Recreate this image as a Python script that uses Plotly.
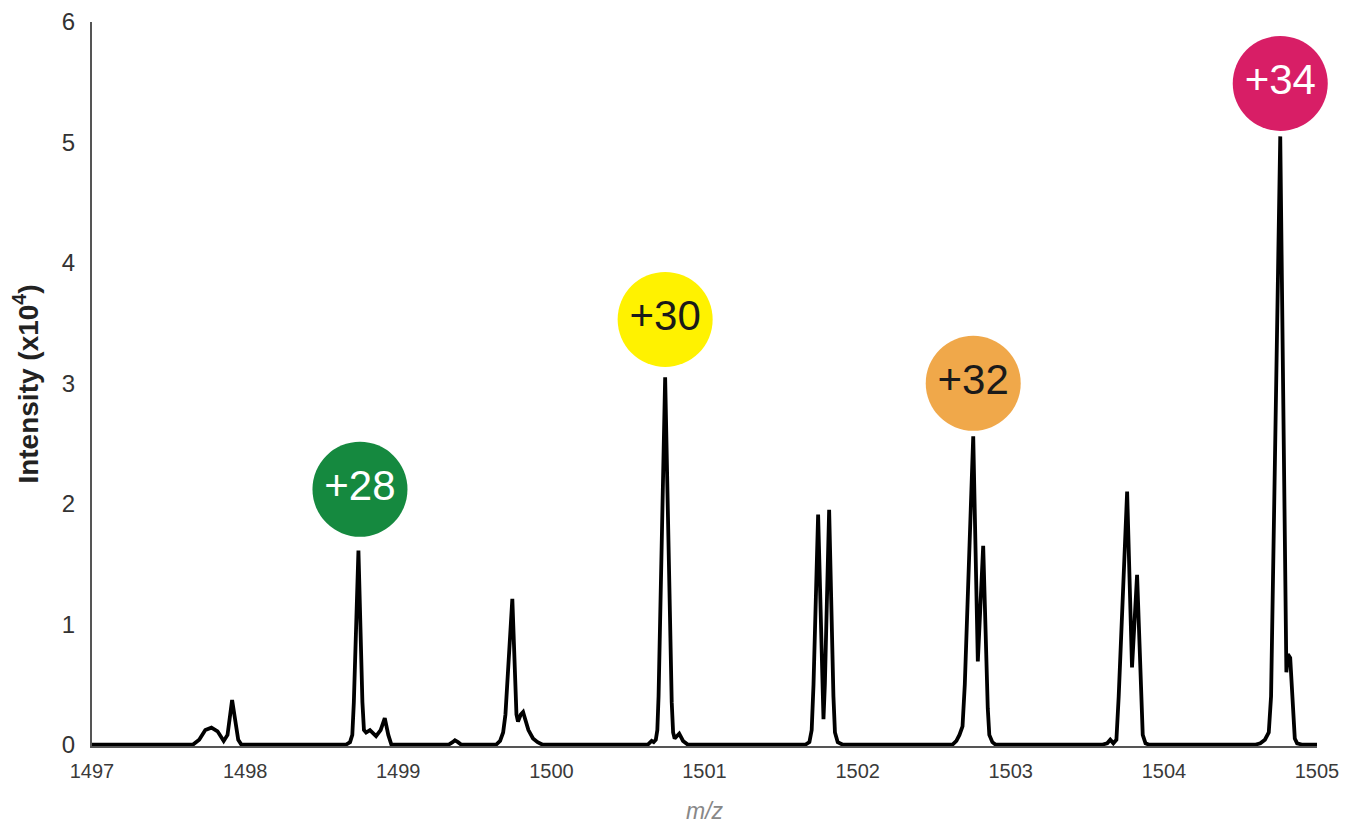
import plotly.graph_objects as go

# Spectrum profile (m/z, intensity x10^4)
mz = [1497.00,
      1497.66, 1497.70, 1497.74, 1497.78, 1497.82, 1497.86, 1497.885, 1497.915, 1497.94, 1497.955, 1497.975,
      1498.66, 1498.685, 1498.70, 1498.71, 1498.74, 1498.766, 1498.776, 1498.79, 1498.815, 1498.855, 1498.885, 1498.912, 1498.935, 1498.955,
      1499.33, 1499.355, 1499.37, 1499.39, 1499.41,
      1499.64, 1499.665, 1499.685, 1499.70, 1499.745, 1499.772, 1499.782, 1499.80, 1499.815, 1499.85, 1499.88, 1499.91, 1499.94,
      1500.63, 1500.655, 1500.668, 1500.682, 1500.692, 1500.70, 1500.743, 1500.786, 1500.795, 1500.805, 1500.835, 1500.86, 1500.89,
      1501.66, 1501.685, 1501.70, 1501.712, 1501.742, 1501.768, 1501.777, 1501.786, 1501.814, 1501.842, 1501.852, 1501.87, 1501.90,
      1502.62, 1502.645, 1502.665, 1502.685, 1502.70, 1502.755, 1502.785, 1502.82, 1502.85, 1502.86, 1502.88, 1502.90,
      1503.60, 1503.63, 1503.65, 1503.67, 1503.69, 1503.705, 1503.76, 1503.792, 1503.825, 1503.852, 1503.862, 1503.88, 1503.90,
      1504.60, 1504.63, 1504.66, 1504.685, 1504.70, 1504.76, 1504.80, 1504.81, 1504.825, 1504.845, 1504.855, 1504.87, 1504.90,
      1505.00]
intensity = [0.0,
             0.0, 0.04, 0.12, 0.14, 0.11, 0.03, 0.08, 0.37, 0.18, 0.04, 0.0,
             0.0, 0.02, 0.08, 0.35, 1.61, 0.35, 0.12, 0.10, 0.12, 0.07, 0.12, 0.22, 0.08, 0.0,
             0.0, 0.02, 0.035, 0.02, 0.0,
             0.0, 0.03, 0.10, 0.25, 1.21, 0.25, 0.19, 0.25, 0.27, 0.12, 0.05, 0.02, 0.0,
             0.0, 0.03, 0.02, 0.04, 0.12, 0.40, 3.05, 0.35, 0.10, 0.05, 0.09, 0.03, 0.0,
             0.0, 0.02, 0.12, 0.50, 1.91, 0.50, 0.21, 0.50, 1.95, 0.40, 0.10, 0.02, 0.0,
             0.0, 0.03, 0.08, 0.15, 0.50, 2.56, 0.69, 1.65, 0.30, 0.08, 0.02, 0.0,
             0.0, 0.01, 0.04, 0.01, 0.04, 0.40, 2.10, 0.64, 1.41, 0.30, 0.08, 0.01, 0.0,
             0.0, 0.01, 0.04, 0.10, 0.40, 5.05, 0.60, 0.75, 0.72, 0.20, 0.05, 0.01, 0.0,
             0.0]

# Charge-state badges
badge_labels = ["+28", "+30", "+32", "+34"]
badge_mz = [1498.75, 1500.743, 1502.755, 1504.76]
badge_y = [2.12, 3.53, 3.00, 5.49]
badge_fill = ["#15893f", "#fff200", "#f0a84a", "#d81e66"]
badge_text = ["#ffffff", "#1a1a1a", "#1a1a1a", "#ffffff"]

x_ticks = [1497, 1498, 1499, 1500, 1501, 1502, 1503, 1504, 1505]
y_ticks = [0, 1, 2, 3, 4, 5, 6]

fig = go.Figure()
fig.add_trace(go.Scatter(x=mz, y=intensity, mode="lines",
                         line=dict(color="#000000", width=3.8), hoverinfo="skip",
                         showlegend=False))

fig.add_trace(go.Scatter(x=badge_mz, y=badge_y, mode="markers+text", text=badge_labels,
                         textposition="middle center", cliponaxis=False,
                         marker=dict(size=95, color=badge_fill, line=dict(width=0)),
                         textfont=dict(family="Liberation Sans, Arial", size=42, color=badge_text),
                         hoverinfo="skip", showlegend=False))

# the page body adds an 8 px offset, so the figure is sized 8 px smaller
fig.update_layout(
    width=1352, height=819,
    margin=dict(l=84, r=43, t=14, b=81),
    plot_bgcolor="#ffffff", paper_bgcolor="#ffffff",
    font=dict(family="Liberation Sans, Arial", color="#333333"),
    xaxis=dict(range=[1497, 1505], tickvals=x_ticks, ticktext=[str(v) for v in x_ticks],
               automargin=False,
               showgrid=False, zeroline=False, showline=True, linecolor="#555555", linewidth=2,
               ticks="", ticklabelstandoff=6, tickfont=dict(size=20, color="#3a3a3a"),
               title=dict(text="<i>m/z</i>", font=dict(size=23, color="#888888"), standoff=22)),
    yaxis=dict(range=[-0.012, 6.0], tickvals=y_ticks, ticktext=[str(v) for v in y_ticks],
               automargin=False,
               showgrid=False, zeroline=False, showline=True, linecolor="#555555", linewidth=2,
               ticks="", ticklabelstandoff=10, tickfont=dict(size=24, color="#333333"),
               title=dict(text="<b>Intensity (x10<sup>4</sup>)</b>", font=dict(size=28, color="#222222"),
                          standoff=22)),
)

fig.write_html("out.html")
